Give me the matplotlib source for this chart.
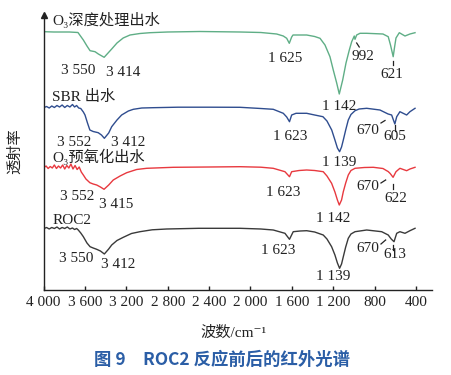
import matplotlib
matplotlib.use("Agg")
import matplotlib.pyplot as plt

# ---------------- data (wavenumber cm^-1, transmittance a.u.) ----------------
o3deep_wn = [3995, 3900, 3750, 3667, 3615, 3580, 3550, 3502, 3470, 3414, 3341, 3290, 3230, 3164,
             3068, 2971, 2800, 2488, 2101, 1900, 1747, 1683, 1650, 1625, 1602, 1589, 1457, 1380,
             1328, 1280, 1232, 1200, 1167, 1142, 1109, 1077, 1045, 1022, 1007, 997, 990, 974, 942,
             877, 720, 669, 647, 621, 609, 594, 562, 507, 459, 410]
o3deep_t = [258.3, 258, 258, 257.5, 250, 244, 239.3, 238.3, 236, 232.7, 241, 247, 252, 255,
            256.5, 257.3, 258, 258.5, 258, 257.5, 256, 254, 251.7, 246.7, 253, 255, 255, 253.5,
            251.7, 245, 233.3, 220, 207, 196, 210, 227, 240, 248.3, 251.7, 254, 250.7, 255, 256.7,
            256.7, 256, 253.3, 245, 233.3, 242, 252, 257.3, 254, 256, 257.3]

sbr_wn = [3995, 3970, 3945, 3920, 3895, 3870, 3845, 3820, 3795, 3770, 3745, 3720, 3700, 3680,
          3660, 3640, 3615, 3599, 3575, 3552, 3520, 3471, 3440, 3412, 3370, 3341, 3290, 3245,
          3180, 3132, 3050, 2942, 2700, 2400, 2101, 1900, 1780, 1683, 1650, 1623, 1602, 1560,
          1457, 1380, 1300, 1261, 1215, 1184, 1160, 1139, 1120, 1103, 1080, 1055, 1029, 990,
          950, 877, 749, 684, 670, 636, 605, 587, 556, 491, 459, 410]
sbr_t = [182.5, 183.5, 182, 184, 182.5, 184.5, 183, 185, 182.5, 184.5, 183, 185.5, 183, 184.5,
         182, 181.5, 178, 175, 167, 160, 158.5, 157.3, 155, 151.7, 157, 163.3, 170, 175,
         179, 180.7, 182, 182.3, 182.8, 182.8, 182.7, 181.5, 180.7, 176.7, 173, 168.3, 175, 176.7,
         176.7, 175, 173.3, 169, 160, 150, 142, 138.3, 143, 150, 160, 170, 175.5, 179.3,
         181, 181.7, 180, 176.7, 176, 175, 166, 173.3, 178.3, 175, 178.3, 181.7]

o3pre_wn = [3995, 3975, 3955, 3935, 3915, 3895, 3875, 3855, 3835, 3815, 3795, 3775, 3755, 3735,
            3715, 3695, 3675, 3655, 3635, 3615, 3590, 3552, 3520, 3486, 3450, 3415, 3370, 3326,
            3260, 3196, 3100, 3003, 2746, 2400, 2101, 1900, 1780, 1667, 1623, 1602, 1530, 1457,
            1380, 1297, 1261, 1216, 1184, 1160, 1142, 1120, 1103, 1080, 1055, 1029, 990, 900,
            813, 720, 684, 670, 650, 622, 594, 556, 491, 459, 410]
o3pre_t = [122.5, 124, 121.5, 123.5, 122, 125, 121.5, 124, 122, 125, 121, 124.5, 122, 126,
           121, 124.5, 120.5, 123, 118, 115, 111, 107.3, 106, 105, 103, 100.7, 105, 110,
           114, 117.3, 120.5, 121.7, 122.7, 123, 123.3, 122.8, 121.7, 118.3, 113.3, 118.3, 119.5, 120,
           119.5, 118.3, 114, 106.7, 98, 90, 85, 90, 98.3, 107, 115, 119.5, 121.7, 122.5,
           122.7, 121.5, 119.3, 118.5, 116.5, 112.7, 118.3, 121.7, 119.3, 121, 122.7]

roc2_wn = [3995, 3970, 3945, 3920, 3895, 3870, 3845, 3820, 3795, 3770, 3745, 3720, 3700, 3680,
           3664, 3640, 3615, 3580, 3550, 3520, 3486, 3450, 3412, 3370, 3341, 3290, 3229, 3150,
           3068, 2950, 2810, 2500, 2101, 1900, 1780, 1667, 1623, 1587, 1520, 1457, 1380, 1297,
           1261, 1216, 1184, 1160, 1139, 1120, 1103, 1080, 1055, 1029, 990, 877, 732, 669,
           640, 613, 587, 556, 507, 459, 410]
roc2_t = [61.5, 62.5, 61, 62.5, 61.5, 63, 61, 62.5, 61.5, 63, 61, 62, 60.5, 61.5,
          60, 57, 53.3, 47, 43.3, 42, 40.7, 39, 36, 41, 45, 49.5, 52.7, 56.5,
          58.3, 60.2, 61, 61.7, 61.7, 61, 60, 56.7, 50.7, 58.3, 59, 59.3, 58, 55,
          51, 43.3, 35, 27, 21.7, 26, 33.3, 43, 51.7, 56, 58.3, 60, 58.3, 55,
          51, 48.3, 56.7, 58.3, 56.7, 59.3, 61.7]

series_names = ["O₃深度处理出水", "SBR 出水", "O₃预氧化出水", "ROC2"]
series_colors = ["#5fae86", "#2f4d8f", "#e8393f", "#3a3a3a"]

x_ticks = [4000, 3600, 3200, 2800, 2400, 2000, 1600, 1200, 800, 400]
x_ticklabels = ["4 000", "3 600", "3 200", "2 800", "2 400", "2 000", "1 600", "1 200", "800", "400"]

# peak annotations: (label, wn, T)
peak_labels = [
    ("3 550", 3667, 220), ("3 414", 3232, 218), ("1 625", 1667, 231), ("992", 913, 233),
    ("621", 633, 216), ("1 142", 1138, 184),
    ("3 552", 3705, 148), ("3 412", 3184, 148), ("1 623", 1618, 154), ("670", 865, 160),
    ("605", 604, 154), ("1 139", 1145, 127),
    ("3 552", 3671, 93), ("3 415", 3300, 85), ("1 623", 1686, 97), ("670", 865, 103),
    ("622", 597, 91), ("1 142", 1203, 71),
    ("3 550", 3686, 32), ("3 412", 3283, 25), ("1 623", 1734, 40), ("670", 865, 42),
    ("613", 607, 35), ("1 139", 1197, 13),
]
leaders = [
    ((974, 949), (247, 243)), ((620, 620), (229, 225)),
    ((739, 700), (167, 169.5)), ((604, 604), (165, 159.5)),
    ((739, 694), (107, 110)), ((620, 620), (106.5, 101.5)),
    ((739, 694), (46, 50)), ((626, 626), (45, 40.5)),
]
name_pos = [(3918, 270), (3918, 193), (3918, 133), (3912, 69)]

# ---------------- figure ----------------
serif = ["Liberation Serif", "DejaVu Serif", "Noto Sans CJK SC"]
fig = plt.figure(figsize=(4.51, 3.75), dpi=100)
ax = fig.add_axes([43.5 / 451, 1 - 290 / 375, (432 - 43.5) / 451, 275 / 375])

series = [(o3deep_wn, o3deep_t), (sbr_wn, sbr_t), (o3pre_wn, o3pre_t), (roc2_wn, roc2_t)]
for (wn, t), c in zip(series, series_colors):
    ax.plot(wn, t, color=c, lw=1.0)

ax.set_xlim(4000, 246)
ax.set_ylim(0, 275)
ax.spines["top"].set_visible(False)
ax.spines["right"].set_visible(False)
for s in ("left", "bottom"):
    ax.spines[s].set_linewidth(1.0)
    ax.spines[s].set_color("#222222")
ax.set_yticks([])
ax.set_xticks(x_ticks)
ax.set_xticklabels(x_ticklabels, fontfamily=serif, fontsize=11)
ax.tick_params(axis="x", direction="in", length=3, width=1, pad=4, colors="#222222")
ax.plot([0], [1], marker="^", markersize=5, color="#222222", transform=ax.transAxes,
        clip_on=False)

for name, (x, y), c in zip(series_names, name_pos, series_colors):
    ax.text(x, y, name, ha="left", va="center", fontsize=11, fontfamily=serif, color="#222222")

for lab, x, y in peak_labels:
    ax.text(x, y, lab, ha="center", va="center", fontsize=11, fontfamily=serif, color="#222222")

for xs, ys in leaders:
    ax.plot(xs, ys, color="#222222", lw=0.9)

fig.text(15 / 451, 1 - 151 / 375, "透射率", rotation=90, ha="center", va="center",
         fontsize=11, fontfamily=serif, color="#222222")
fig.text(233 / 451, 1 - 333 / 375, "波数/cm⁻¹", ha="center", va="center",
         fontsize=11, fontfamily=serif, color="#222222")
fig.text(222 / 451, 1 - 360 / 375, "图 9　ROC2 反应前后的红外光谱", ha="center", va="center",
         fontsize=12.5, fontfamily=["Noto Sans CJK SC"], fontweight="bold", color="#2b5ea6")

fig.savefig("out.png", dpi=100)
